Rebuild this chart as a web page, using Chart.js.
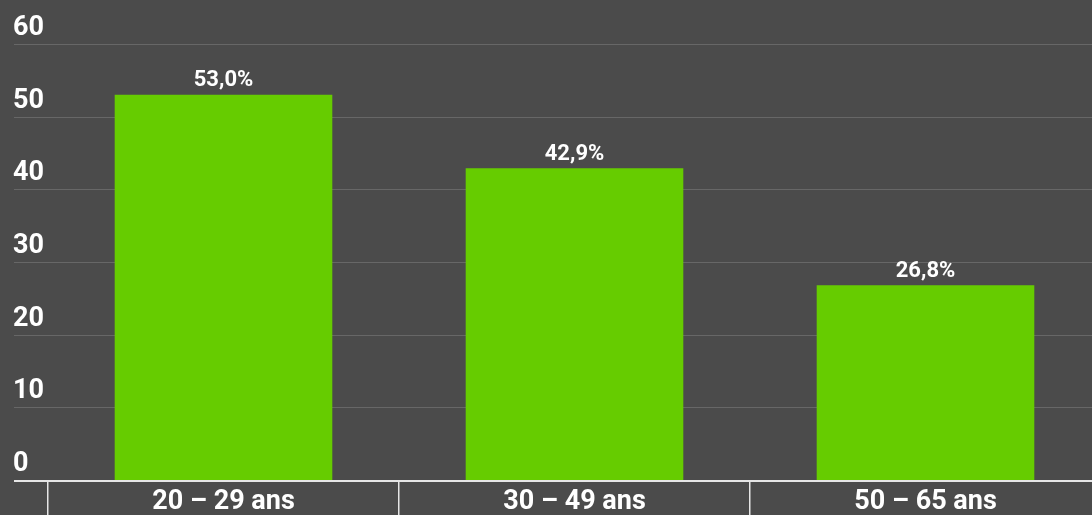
<!DOCTYPE html>
<html>
<head>
<meta charset="utf-8">
<script src="https://cdn.jsdelivr.net/npm/chart.js@4"></script>
<style>
  html, body { margin: 0; padding: 0; background: #4b4b4b; overflow: hidden; }
  #wrap { width: 1110px; height: 515px; position: relative; }
</style>
</head>
<body>
<div id="wrap"><canvas id="chart"></canvas></div>
<script>
// ─── DATA ───────────────────────────────────────────────
const categories = ['20 – 29 ans', '30 – 49 ans', '50 – 65 ans'];
const values = [53.0, 42.9, 26.8];
const valueLabels = ['53,0%', '42,9%', '26,8%'];
const yTicks = [0, 10, 20, 30, 40, 50, 60];

const BG = '#4b4b4b';
const GREEN = '#66cc00';

// gridlines + y labels drawn across the full width, bar value labels on top
const overlay = {
  id: 'overlay',
  beforeDatasetsDraw(chart) {
    const { ctx, scales: { y } } = chart;
    ctx.save();
    ctx.strokeStyle = '#676767';
    ctx.lineWidth = 1;
    ctx.fillStyle = '#ffffff';
    ctx.font = 'bold 27px Roboto';
    ctx.textAlign = 'left';
    ctx.textBaseline = 'middle';
    yTicks.forEach(v => {
      const py = Math.round(y.getPixelForValue(v)) + 0.5;
      if (v !== 0) {
        ctx.beginPath();
        ctx.moveTo(14, py);
        ctx.lineTo(chart.width, py);
        ctx.stroke();
      }
      ctx.fillText(String(v), 13, py - 16);
    });
    ctx.restore();
  },
  afterDatasetsDraw(chart) {
    const { ctx, scales: { y } } = chart;
    ctx.save();
    // axis line
    const py = Math.round(y.getPixelForValue(0)) + 1;
    ctx.strokeStyle = '#e6e6e6';
    ctx.lineWidth = 2;
    ctx.beginPath();
    ctx.moveTo(14, py);
    ctx.lineTo(chart.width, py);
    ctx.stroke();
    // value labels
    ctx.fillStyle = '#ffffff';
    ctx.font = 'bold 22px Roboto';
    ctx.textAlign = 'center';
    ctx.textBaseline = 'bottom';
    chart.getDatasetMeta(0).data.forEach((bar, i) => {
      ctx.fillText(valueLabels[i], bar.x, bar.y - 3);
    });
    ctx.restore();
  }
};

new Chart(document.getElementById('chart'), {
  type: 'bar',
  data: {
    labels: categories,
    datasets: [{
      data: values,
      backgroundColor: GREEN,
      borderWidth: 0,
      categoryPercentage: 1,
      barPercentage: 0.62
    }]
  },
  options: {
    responsive: true,
    maintainAspectRatio: false,
    animation: false,
    devicePixelRatio: 1,
    layout: { padding: { left: 48, right: 9, top: 44, bottom: 0 } },
    plugins: { legend: { display: false }, tooltip: { enabled: false } },
    scales: {
      y: { display: false, min: 0, max: 60 },
      x: {
        afterFit: s => { s.height = 35; },
        border: { display: false },
        grid: {
          offset: true,
          drawOnChartArea: false,
          drawTicks: true,
          tickLength: 35,
          color: '#e6e6e6',
          lineWidth: 1.5
        },
        ticks: {
          color: '#ffffff',
          padding: -29,
          font: { family: 'Roboto', size: 27, weight: 'bold' }
        }
      }
    }
  },
  plugins: [overlay]
});
</script>
</body>
</html>
